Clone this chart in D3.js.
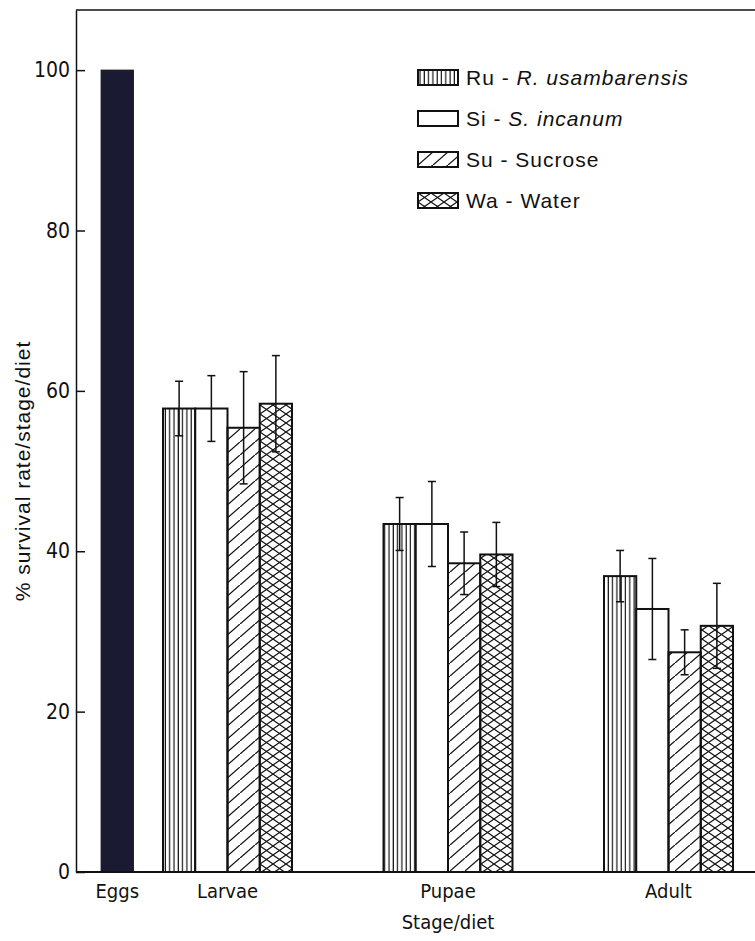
<!DOCTYPE html>
<html>
<head>
<meta charset="utf-8">
<script src="https://cdn.jsdelivr.net/npm/d3@7"></script>
<style>
  body { margin: 0; background: #fff; }
  svg { display: block; }
</style>
</head>
<body>
<div id="chart"></div>
<script>
// data
const stages = ["Larvae", "Pupae", "Adult"];
const eggsLabel = "Eggs";
const eggsValue = 100;
const diets = ["Ru", "Si", "Su", "Wa"];
const dietNames = ["R. usambarensis", "S. incanum", "Sucrose", "Water"];
const ruMean = [57.8, 43.4, 36.9];
const siMean = [57.8, 43.4, 32.8];
const suMean = [55.4, 38.5, 27.4];
const waMean = [58.4, 39.6, 30.7];
const ruErr = [3.4, 3.3, 3.2];
const siErr = [4.1, 5.3, 6.3];
const suErr = [7.0, 3.9, 2.8];
const waErr = [6.0, 4.0, 5.3];
const yTicks = [0, 20, 40, 60, 80, 100];

const width = 755, height = 941;
const plotLeft = 76, plotRight = 755, plotTop = 10, plotBottom = 872;

const svg = d3.select("#chart").append("svg")
    .attr("width", width)
    .attr("height", height);

const y = d3.scaleLinear().domain([0, 107.5]).range([plotBottom, plotTop]);

const x0 = d3.scaleBand()
    .domain(stages)
    .range([163, 733])
    .paddingInner(0.415)
    .paddingOuter(0);

const x1 = d3.scaleBand()
    .domain(diets)
    .range([0, x0.bandwidth()]);

// hatch patterns
const defs = svg.append("defs");

const pRu = defs.append("pattern").attr("id", "pRu")
    .attr("patternUnits", "userSpaceOnUse").attr("width", 4.3).attr("height", 10);
pRu.append("line").attr("x1", 2).attr("x2", 2).attr("y1", 0).attr("y2", 10)
    .attr("stroke", "#111").attr("stroke-width", 1.2);

const pSu = defs.append("pattern").attr("id", "pSu")
    .attr("patternUnits", "userSpaceOnUse").attr("width", 15).attr("height", 13);
pSu.append("path").attr("d", "M-1.5,14.3 L16.5,-1.3")
    .attr("stroke", "#111").attr("stroke-width", 1.3).attr("fill", "none");

const pWa = defs.append("pattern").attr("id", "pWa")
    .attr("patternUnits", "userSpaceOnUse").attr("width", 13).attr("height", 9);
pWa.append("path").attr("d", "M-1.3,-0.9 L14.3,9.9 M-1.3,9.9 L14.3,-0.9")
    .attr("stroke", "#111").attr("stroke-width", 1.2).attr("fill", "none");

const fills = { Ru: "url(#pRu)", Si: "#fff", Su: "url(#pSu)", Wa: "url(#pWa)" };
const means = { Ru: ruMean, Si: siMean, Su: suMean, Wa: waMean };
const errs = { Ru: ruErr, Si: siErr, Su: suErr, Wa: waErr };

const rows = [];
stages.forEach((s, i) => {
    diets.forEach(d => rows.push({ stage: s, diet: d, value: means[d][i], err: errs[d][i] }));
});

// frame
svg.append("line").attr("x1", plotLeft).attr("x2", plotRight).attr("y1", plotTop).attr("y2", plotTop)
    .attr("stroke", "#111").attr("stroke-width", 1.5);

// eggs bar, half a group step left of the larvae group
const eggsW = x1.bandwidth();
const eggsX = x0("Larvae") + x0.bandwidth() / 2 - x0.step() / 2 - eggsW / 2;
svg.append("rect")
    .attr("x", eggsX).attr("y", y(eggsValue))
    .attr("width", eggsW).attr("height", y(0) - y(eggsValue))
    .attr("fill", "#1a1a33").attr("stroke", "#111").attr("stroke-width", 1);

// diet bars
svg.append("g").selectAll("rect")
    .data(rows)
    .join("rect")
    .attr("x", d => x0(d.stage) + x1(d.diet))
    .attr("y", d => y(d.value))
    .attr("width", x1.bandwidth())
    .attr("height", d => y(0) - y(d.value))
    .attr("fill", d => fills[d.diet])
    .attr("stroke", "#111")
    .attr("stroke-width", 2);

// error bars
const eb = svg.append("g").attr("stroke", "#111").attr("stroke-width", 1.5);
rows.forEach(d => {
    const cx = x0(d.stage) + x1(d.diet) + x1.bandwidth() / 2;
    eb.append("line").attr("x1", cx).attr("x2", cx)
        .attr("y1", y(d.value - d.err)).attr("y2", y(d.value + d.err));
    eb.append("line").attr("x1", cx - 4).attr("x2", cx + 4)
        .attr("y1", y(d.value + d.err)).attr("y2", y(d.value + d.err));
    eb.append("line").attr("x1", cx - 4).attr("x2", cx + 4)
        .attr("y1", y(d.value - d.err)).attr("y2", y(d.value - d.err));
});

// x axis line
svg.append("line").attr("x1", plotLeft).attr("x2", plotRight).attr("y1", plotBottom).attr("y2", plotBottom)
    .attr("stroke", "#111").attr("stroke-width", 1.8);

// y axis, ticks pointing inward
const yAxis = svg.append("g")
    .attr("transform", `translate(${plotLeft},0)`)
    .call(d3.axisLeft(y).tickValues(yTicks).tickSize(-9).tickSizeOuter(0).tickPadding(6));
yAxis.select(".domain").attr("stroke", "#111").attr("stroke-width", 1.5);
yAxis.selectAll(".tick line").attr("stroke", "#111").attr("stroke-width", 1.5);
const condensed = "'DejaVu Sans Condensed', 'Liberation Sans Narrow', sans-serif";
yAxis.selectAll(".tick text")
    .attr("font-family", condensed)
    .style("font-stretch", "condensed")
    .attr("font-size", 21).attr("fill", "#111");

// stage labels
const stageLabels = [{ label: eggsLabel, cx: eggsX + eggsW / 2 }]
    .concat(stages.map(s => ({ label: s, cx: x0(s) + x0.bandwidth() / 2 })));
svg.append("g").selectAll("text")
    .data(stageLabels)
    .join("text")
    .attr("x", d => d.cx)
    .attr("y", 898)
    .attr("text-anchor", "middle")
    .attr("font-family", condensed)
    .style("font-stretch", "condensed")
    .attr("font-size", 20)
    .attr("fill", "#111")
    .text(d => d.label);

svg.append("text")
    .attr("x", x0("Pupae") + x0.bandwidth() / 2)
    .attr("y", 929)
    .attr("text-anchor", "middle")
    .attr("font-family", condensed)
    .style("font-stretch", "condensed")
    .attr("font-size", 20)
    .attr("fill", "#111")
    .text("Stage/diet");

svg.append("text")
    .attr("transform", `translate(30,${(y(0) + y(100)) / 2}) rotate(-90)`)
    .attr("text-anchor", "middle")
    .attr("font-family", "'Liberation Sans', Arial, sans-serif")
    .attr("font-size", 21)
    .attr("letter-spacing", 1)
    .attr("fill", "#111")
    .text("% survival rate/stage/diet");

// legend
const legend = svg.append("g").attr("transform", "translate(418,70)");
diets.forEach((d, i) => {
    const g = legend.append("g").attr("transform", `translate(0,${i * 41})`);
    g.append("rect").attr("width", 40).attr("height", 15)
        .attr("fill", fills[d]).attr("stroke", "#111").attr("stroke-width", 2);
    const t = g.append("text").attr("x", 48).attr("y", 15)
        .attr("font-family", "'Liberation Sans', Arial, sans-serif")
        .attr("font-size", 21).attr("letter-spacing", 1).attr("fill", "#111");
    t.append("tspan").text(d + " - ");
    t.append("tspan").attr("font-style", i < 2 ? "italic" : "normal").text(dietNames[i]);
});
</script>
</body>
</html>
